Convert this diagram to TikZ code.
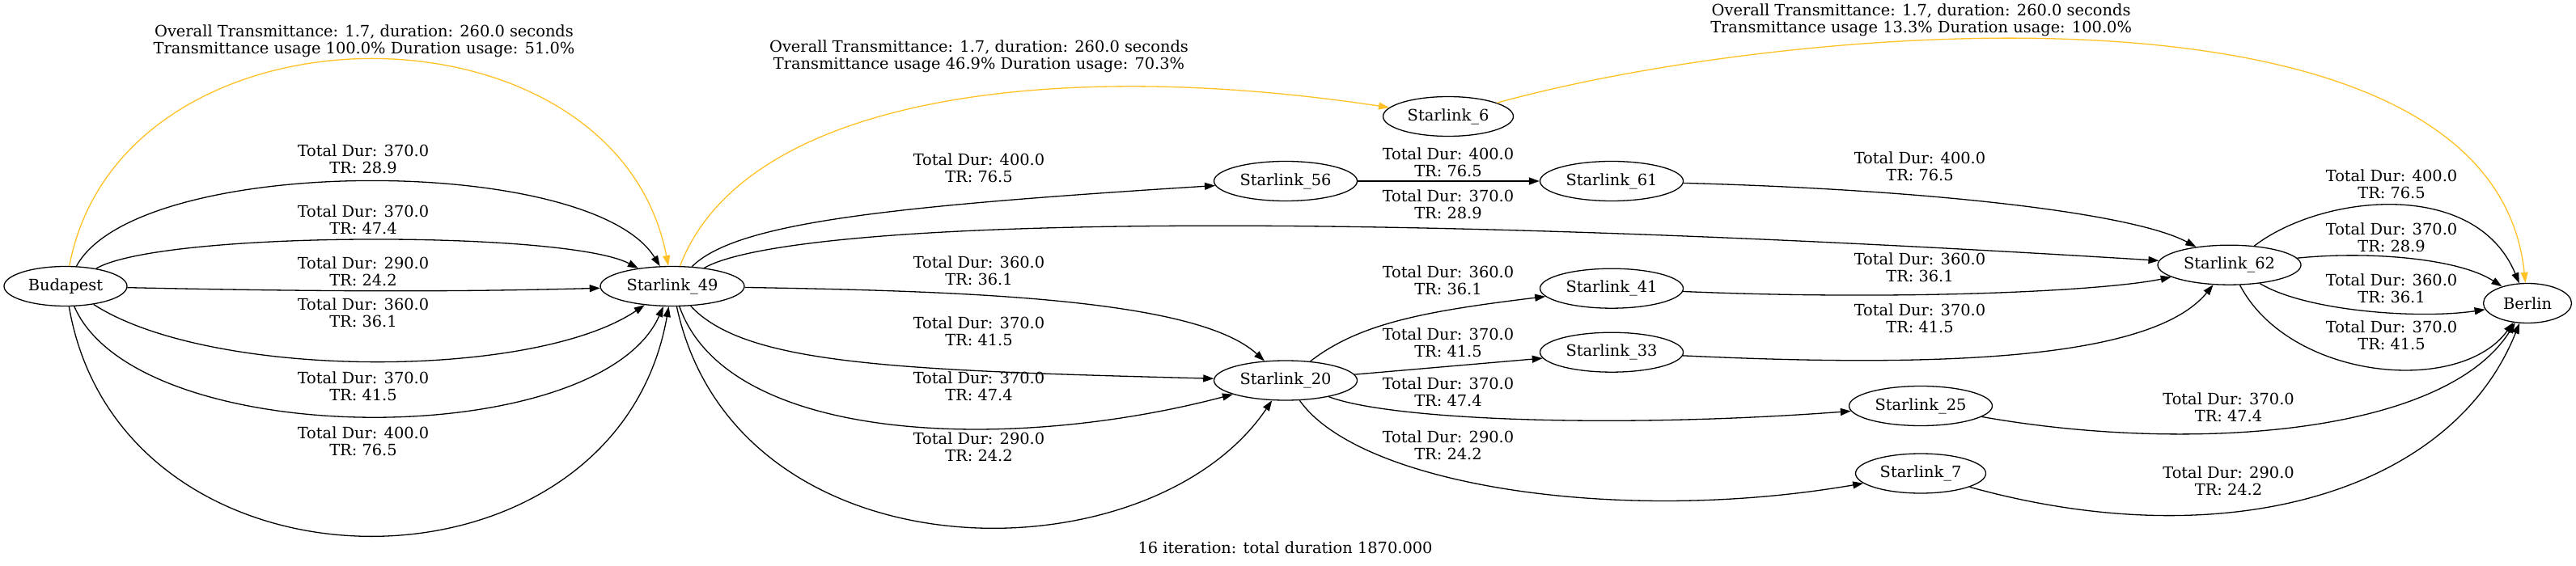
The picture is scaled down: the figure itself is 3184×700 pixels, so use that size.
\documentclass[tikz,border=0pt]{standalone}
\usepackage{fontspec}
\setmainfont{DejaVu Serif}
\usetikzlibrary{shapes,arrows.meta}
\definecolor{pathgold}{HTML}{FFC125}

\begin{document}
\begin{tikzpicture}[x=1pt, y=-1pt,
  every node/.style={font=\fontsize{19.4}{20.6}\selectfont},
  sat/.style={draw, ellipse, line width=1.3pt, inner sep=0pt, minimum height=49pt, minimum width=177pt},
  lbl/.style={align=center, inner sep=0pt},
  link/.style={-{Triangle[length=13pt, width=9pt]}, line width=1.3pt},
  best/.style={link, color=pathgold}]
  \useasboundingbox (0,0) rectangle (3184,700);

  % Ground stations
  \node[sat, minimum width=152pt] (bud) at (81,354) {Budapest};
  \node[sat, minimum width=109pt] (ber) at (3124,375) {Berlin};

  % Satellites
  \node[sat, minimum width=178pt] (s49) at (831,354) {Starlink\_49};
  \node[sat, minimum width=161pt] (s6) at (1790,144) {Starlink\_6};
  \node[sat] (s56) at (1589,224) {Starlink\_56};
  \node[sat] (s61) at (1992,224) {Starlink\_61};
  \node[sat] (s20) at (1589,470.5) {Starlink\_20};
  \node[sat] (s41) at (1992,356.7) {Starlink\_41};
  \node[sat] (s33) at (1992,435.7) {Starlink\_33};
  \node[sat] (s25) at (2374,502) {Starlink\_25};
  \node[sat, minimum width=161pt] (s7) at (2374,585.5) {Starlink\_7};
  \node[sat] (s62) at (2755.5,327.7) {Starlink\_62};

  % Labels
  \node[lbl] (lab1) at (450,51) {Overall Transmittance: 1.7, duration: 260.0 seconds\\Transmittance usage 100.0\% Duration usage: 51.0\%};
  \node[lbl] (lab2) at (449,197) {Total Dur: 370.0\\TR: 28.9};
  \node[lbl] (lab3) at (449,271.5) {Total Dur: 370.0\\TR: 47.4};
  \node[lbl] (lab4) at (449,336) {Total Dur: 290.0\\TR: 24.2};
  \node[lbl] (lab5) at (449,387) {Total Dur: 360.0\\TR: 36.1};
  \node[lbl] (lab6) at (449,478) {Total Dur: 370.0\\TR: 41.5};
  \node[lbl] (lab7) at (449,546) {Total Dur: 400.0\\TR: 76.5};
  \node[lbl] (lab8) at (1210,69.5) {Overall Transmittance: 1.7, duration: 260.0 seconds\\Transmittance usage 46.9\% Duration usage: 70.3\%};
  \node[lbl] (lab9) at (1210,208) {Total Dur: 400.0\\TR: 76.5};
  \node[lbl] (lab10) at (1790,252.5) {Total Dur: 370.0\\TR: 28.9};
  \node[lbl] (lab11) at (1210,334.5) {Total Dur: 360.0\\TR: 36.1};
  \node[lbl] (lab12) at (1210,409.5) {Total Dur: 370.0\\TR: 41.5};
  \node[lbl] (lab13) at (1210,478) {Total Dur: 370.0\\TR: 47.4};
  \node[lbl] (lab14) at (1210,553) {Total Dur: 290.0\\TR: 24.2};
  \node[lbl] (lab15) at (1790,201) {Total Dur: 400.0\\TR: 76.5};
  \node[lbl] (lab16) at (2374.6,25) {Overall Transmittance: 1.7, duration: 260.0 seconds\\Transmittance usage 13.3\% Duration usage: 100.0\%};
  \node[lbl] (lab17) at (2373,205.5) {Total Dur: 400.0\\TR: 76.5};
  \node[lbl] (lab18) at (1790,346.5) {Total Dur: 360.0\\TR: 36.1};
  \node[lbl] (lab19) at (1790,424) {Total Dur: 370.0\\TR: 41.5};
  \node[lbl] (lab20) at (1790,485) {Total Dur: 370.0\\TR: 47.4};
  \node[lbl] (lab21) at (1790,551) {Total Dur: 290.0\\TR: 24.2};
  \node[lbl] (lab22) at (2373,330.5) {Total Dur: 360.0\\TR: 36.1};
  \node[lbl] (lab23) at (2373,394) {Total Dur: 370.0\\TR: 41.5};
  \node[lbl] (lab24) at (2754.5,503.5) {Total Dur: 370.0\\TR: 47.4};
  \node[lbl] (lab25) at (2754.5,594.5) {Total Dur: 290.0\\TR: 24.2};
  \node[lbl] (lab26) at (2956,228) {Total Dur: 400.0\\TR: 76.5};
  \node[lbl] (lab27) at (2956,294) {Total Dur: 370.0\\TR: 28.9};
  \node[lbl] (lab28) at (2956,356.5) {Total Dur: 360.0\\TR: 36.1};
  \node[lbl] (lab29) at (2956,414.5) {Total Dur: 370.0\\TR: 41.5};
  \node[lbl] (title) at (1588.6,677) {16 iteration: total duration 1870.000};

  % Budapest to Starlink_49
  \draw[best] (bud) .. controls (150,-11) and (760,-11) .. (s49);
  \draw[link] (bud) .. controls (170,190) and (730,190) .. (s49);
  \draw[link] (bud) .. controls (200,285) and (700,285) .. (s49);
  \draw[link] (bud) .. controls (450,362) and (600,360) .. (s49);
  \draw[link] (bud) .. controls (260,470) and (660,470) .. (s49);
  \draw[link] (bud) .. controls (170,560) and (740,560) .. (s49);
  \draw[link] (bud) .. controls (150,756) and (760,756) .. (s49);

  % Starlink_49 onwards
  \draw[best] (s49) .. controls (920,120) and (1300,70) .. (s6);
  \draw[link] (s49) .. controls (910,275) and (1100,255) .. (s56);
  \draw[link] (s49) .. controls (960,280) and (1500,250) .. (s62);
  \draw[link] (s49) .. controls (1200,360) and (1480,370) .. (s20);
  \draw[link] (s49) .. controls (920,450) and (1100,458) .. (s20);
  \draw[link] (s49) .. controls (900,550) and (1250,560) .. (s20);
  \draw[link] (s49) .. controls (910,720) and (1420,720) .. (s20);

  % Upper chain
  \draw[link] (s56) -- (s61);
  \draw[best] (s6) .. controls (2200,30) and (3080,-50) .. (ber);
  \draw[link] (s61) .. controls (2400,235) and (2640,265) .. (s62);

  % Starlink_20 onwards
  \draw[link] (s20) .. controls (1680,400) and (1760,385) .. (s41);
  \draw[link] (s20) -- (s33);
  \draw[link] (s20) .. controls (1720,520) and (2000,530) .. (s25);
  \draw[link] (s20) .. controls (1680,600) and (2000,650) .. (s7);
  \draw[link] (s41) .. controls (2350,372) and (2600,360) .. (s62);
  \draw[link] (s33) .. controls (2400,455) and (2660,445) .. (s62);
  \draw[link] (s25) .. controls (2700,560) and (3020,540) .. (ber);
  \draw[link] (s7) .. controls (2750,690) and (3030,610) .. (ber);

  % Starlink_62 to Berlin
  \draw[link] (s62) .. controls (2870,240) and (3060,220) .. (ber);
  \draw[link] (s62) .. controls (2930,310) and (3040,320) .. (ber);
  \draw[link] (s62) .. controls (2850,385) and (2990,395) .. (ber);
  \draw[link] (s62) .. controls (2830,470) and (3040,490) .. (ber);
\end{tikzpicture}
\end{document}
